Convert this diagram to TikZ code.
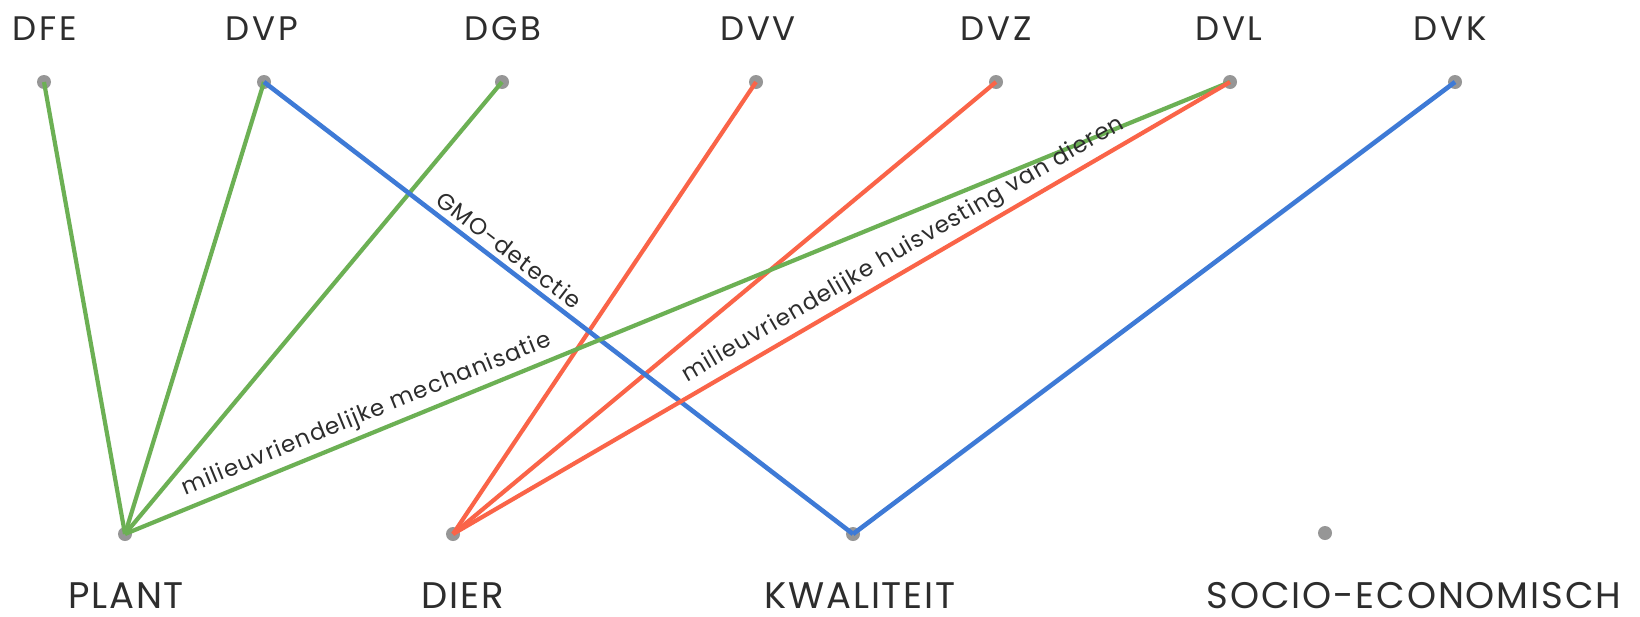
\documentclass[tikz,border=0pt]{standalone}
\usepackage{fontspec}
\setmainfont{Poppins}
\newfontfamily\capsfont[LetterSpace=8]{Poppins}
\newfontfamily\botfont[LetterSpace=5]{Poppins}
\newfontfamily\labfont[LetterSpace=5]{Poppins}
\definecolor{gr}{RGB}{108,176,84}
\definecolor{rd}{RGB}{250,100,72}
\definecolor{bl}{RGB}{62,122,214}
\definecolor{dotc}{RGB}{150,150,150}
\definecolor{txt}{RGB}{45,45,45}
\tikzset{
  dot/.style={circle,fill=dotc,minimum size=14pt,inner sep=0pt},
  toplab/.style={anchor=base,text=txt,inner sep=0pt,font=\capsfont\fontsize{34}{34}\selectfont},
  botlab/.style={anchor=base,text=txt,inner sep=0pt,font=\botfont\fontsize{37}{37}\selectfont},
  edgelab/.style={sloped,above=3pt,text=txt,font=\labfont\fontsize{23}{23}\selectfont,inner sep=2pt},
  gline/.style={draw=gr,line width=4.2pt},
  rline/.style={draw=rd,line width=4.2pt},
  bline/.style={draw=bl,line width=4.6pt},
}
\begin{document}
\begin{tikzpicture}[x=1pt,y=-1pt]
\useasboundingbox (0,0) rectangle (1640,616);
\fill[white] (0,0) rectangle (1640,616);
% dots
\node[dot] (dfe) at (44,82) {};
\node[dot] (dvp) at (264,82) {};
\node[dot] (dgb) at (502,82) {};
\node[dot] (dvv) at (756,82) {};
\node[dot] (dvz) at (996,82) {};
\node[dot] (dvl) at (1230,82) {};
\node[dot] (dvk) at (1455,82) {};
\node[dot] (plant) at (125,534) {};
\node[dot] (dier) at (453,534) {};
\node[dot] (kwal) at (853,534) {};
\node[dot] (socio) at (1325,533) {};
% labels
\node[toplab] (ldfe) at (45,40) {DFE};
\node[toplab] (ldvp) at (262,40) {DVP};
\node[toplab] (ldgb) at (503,40) {DGB};
\node[toplab] (ldvv) at (758,40) {DVV};
\node[toplab] (ldvz) at (996,40) {DVZ};
\node[toplab] (ldvl) at (1229,40) {DVL};
\node[toplab] (ldvk) at (1450,40) {DVK};
\node[botlab] (lplant) at (126,608) {PLANT};
\node[botlab] (ldier) at (463,608) {DIER};
\node[botlab] (lkwal) at (860,608) {KWALITEIT};
\node[botlab] (lsocio) at (1414,608) {SOCIO-ECONOMISCH};
% connectors
\draw[gline] (plant.center) -- (dfe.center);
\draw[gline] (plant.center) -- (dvp.center);
\draw[gline] (plant.center) -- (dgb.center);
\draw[rline] (dier.center) -- (dvv.center);
\draw[rline] (dier.center) -- (dvz.center);
\draw[bline] (dvp.center) -- node[edgelab,pos=0.40] {GMO-detectie} (kwal.center);
\draw[gline] (plant.center) -- node[edgelab,pos=0.225] {milieuvriendelijke mechanisatie} (dvl.center);
\draw[rline] (dier.center) -- node[edgelab,pos=0.592] {milieuvriendelijke huisvesting van dieren} (dvl.center);
\draw[bline] (kwal.center) -- (dvk.center);
\end{tikzpicture}
\end{document}
